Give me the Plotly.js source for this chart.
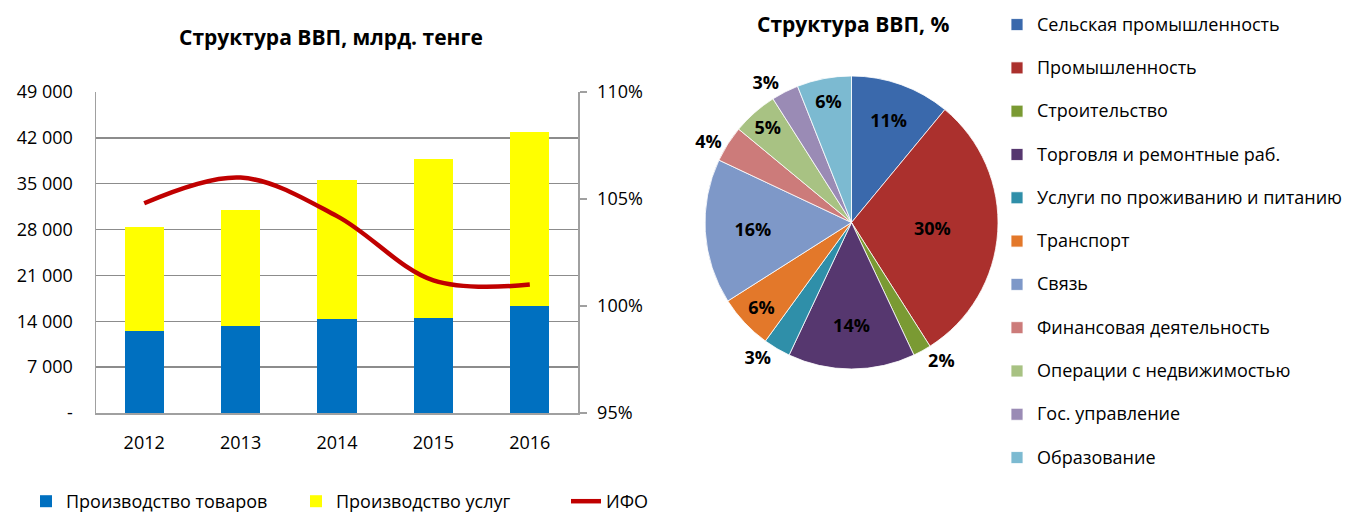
<!DOCTYPE html>
<html><head><meta charset="utf-8">
<script src="https://cdn.plot.ly/plotly-3.0.1.min.js"></script>
<style>html,body{margin:0;padding:0;background:#fff}#chart{width:1347px;height:512px}</style>
</head><body><div id="chart"></div>
<script>
const years = ['2012','2013','2014','2015','2016'];
const goods = [12550, 13300, 14300, 14500, 16400];
const services = [15850, 17700, 21200, 24300, 26500];
const ifo = [1.048, 1.060, 1.042, 1.012, 1.010];
const leftTickVals = [0,7000,14000,21000,28000,35000,42000,49000];
const leftTickText = ['-','7 000','14 000','21 000','28 000','35 000','42 000','49 000'];
const rightTickVals = [0.95,1.00,1.05,1.10];
const seriesNames = ['Производство товаров','Производство услуг','ИФО'];

const sectors = ['Сельская промышленность','Промышленность','Строительство','Торговля и ремонтные раб.',
  'Услуги по проживанию и питанию','Транспорт','Связь','Финансовая деятельность',
  'Операции с недвижимостью','Гос. управление','Образование'];
const shares = [11,30,2,14,3,6,16,4,5,3,6];
const sectorColors = ['#3A69AC','#AB302D','#7A9A33','#56376F','#2F8FA9','#E3782A','#7E98C8','#CC7B7A','#A8C283','#9A8BB5','#7CBAD1'];
const labelPos = ['inside','inside','outside','inside','outside','inside','inside','outside','inside','outside','inside'];

const FONT = 'Open Sans, sans-serif';
const W = 1347, H = 512;
const px = v => v / W, py = v => 1 - v / H;

const traces = [
  {type:'bar', x:years, y:goods, name:seriesNames[0], marker:{color:'#0070C0'}, width:0.405, legend:'legend', hoverinfo:'y'},
  {type:'bar', x:years, y:services, name:seriesNames[1], marker:{color:'#FFFF00'}, width:0.405, legend:'legend', hoverinfo:'y'},
  {type:'scatter', mode:'lines', x:years, y:ifo, yaxis:'y2', name:seriesNames[2],
   line:{color:'#C00000', width:4.5, shape:'spline', smoothing:1}, legend:'legend'},
  {type:'pie', labels:sectors.map(s => '<span style="font-size:18px">' + s + '</span><br> '),
   values:shares, sort:false, direction:'clockwise', rotation:0,
   marker:{colors:sectorColors, line:{color:'#ffffff', width:0.8}},
   textinfo:'percent', textposition:labelPos,
   textfont:{family:FONT, size:18, color:'#000', weight:700},
   insidetextorientation:'horizontal',
   domain:{x:[px(705), px(998)], y:[py(370), py(75)]},
   legend:'legend2', showlegend:true, hoverinfo:'percent'}
];

const gray = '#A0A0A0';
const layout = {
  width:W, height:H,
  margin:{l:0, r:0, t:0, b:0, autoexpand:false},
  paper_bgcolor:'#fff', plot_bgcolor:'#fff',
  font:{family:FONT, size:18, color:'#000'},
  barmode:'stack',
  title:{text:'Структура ВВП, млрд. тенге', font:{family:FONT, size:21, weight:700, color:'#000'},
    x:px(331), xanchor:'center', xref:'paper', y:py(38), yanchor:'middle', yref:'paper'},
  xaxis:{domain:[px(96), px(578)], type:'category', showline:true, linecolor:gray, linewidth:1.5,
    ticks:'', ticklabelstandoff:13, tickfont:{family:FONT, size:18, color:'#000'}, showgrid:false, fixedrange:true},
  yaxis:{domain:[py(413), py(92)], range:[0,49000], tickvals:leftTickVals, ticktext:leftTickText,
    showgrid:true, gridcolor:'#8C8C8C', gridwidth:1.3, showline:true, linecolor:gray, linewidth:1.5,
    ticks:'', ticklabelstandoff:18, zeroline:false, tickfont:{family:FONT, size:18, color:'#000'}, fixedrange:true},
  yaxis2:{overlaying:'y', side:'right', range:[0.95,1.10], tickvals:rightTickVals, tickformat:'.0%',
    showgrid:false, showline:true, linecolor:gray, linewidth:1.5, ticks:'outside', ticklen:7, tickcolor:gray, tickwidth:1.5,
    ticklabelstandoff:7, zeroline:false, tickfont:{family:FONT, size:18, color:'#000'}, fixedrange:true},
  legend:{orientation:'h', x:px(26), xanchor:'left', y:py(483), yanchor:'top', traceorder:'normal',
    font:{family:FONT, size:18, color:'#000'}, bgcolor:'rgba(0,0,0,0)', entrywidth:225},
  legend2:{orientation:'v', x:px(997), xanchor:'left', y:py(8), yanchor:'top',
    font:{family:FONT, size:15.5, color:'#000'}, bgcolor:'rgba(0,0,0,0)', valign:'top'},
  annotations:[{text:'Структура ВВП, %', xref:'paper', yref:'paper', x:px(853), y:py(24), xanchor:'center', yanchor:'middle',
    showarrow:false, font:{family:FONT, size:21, weight:700, color:'#000'}}],
  showlegend:true
};

Plotly.newPlot('chart', traces, layout, {displayModeBar:false, staticPlot:true});
</script>
</body></html>
